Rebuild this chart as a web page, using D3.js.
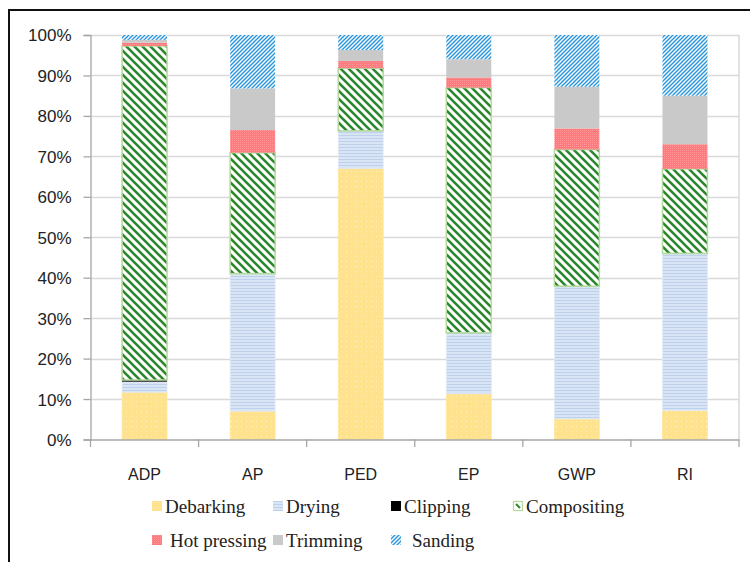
<!DOCTYPE html>
<html><head><meta charset="utf-8">
<script src="https://cdn.jsdelivr.net/npm/d3@7"></script>
<style>body{margin:0;background:#fff}svg{display:block}</style>
</head><body>
<svg id="c" width="750" height="562"></svg>
<script>
const categories = ["ADP","AP","PED","EP","GWP","RI"];
const seriesNames = ["Debarking","Drying","Clipping","Compositing","Hot pressing","Trimming","Sanding"];
const debarking   = [11.7, 7.0, 67.0, 11.3, 5.1, 7.2];
const drying      = [2.6, 34.0, 9.3, 15.1, 32.8, 38.8];
const clipping    = [0.4, 0, 0, 0, 0, 0];
const compositing = [82.6, 29.9, 15.5, 60.6, 33.8, 20.9];
const hotPressing = [0.8, 5.6, 1.8, 2.5, 5.2, 6.1];
const trimming    = [0.7, 10.3, 2.7, 4.5, 10.3, 12.0];
const sanding     = [1.2, 13.2, 3.7, 6.0, 12.8, 15.0];
const yTickValues = [0,10,20,30,40,50,60,70,80,90,100];

const seriesValues = [debarking, drying, clipping, compositing, hotPressing, trimming, sanding];
const rows = categories.map((c,i)=>{const o={cat:c}; seriesNames.forEach((s,j)=>o[s]=seriesValues[j][i]); return o;});

const svg = d3.select("#c");
const defs = svg.append("defs");
function pat(id,w,h,draw){const p=defs.append("pattern").attr("id",id).attr("patternUnits","userSpaceOnUse").attr("width",w).attr("height",h); draw(p); return `url(#${id})`;}
const fills = {
  "Debarking": pat("pDeb",5,5,p=>{p.append("rect").attr("width",5).attr("height",5).attr("fill","#FFE28E");p.append("rect").attr("x",1).attr("y",1).attr("width",1).attr("height",1).attr("fill","#FFF2C6");}),
  "Drying": pat("pDry",4,3,p=>{p.append("rect").attr("width",4).attr("height",3).attr("fill","#D9E4F4");p.append("rect").attr("y",0).attr("width",4).attr("height",1).attr("fill","#BDD0EC");}),
  "Clipping": "#000",
  "Compositing": pat("pCom",8,8,p=>{p.append("rect").attr("width",8).attr("height",8).attr("fill","#fff");
     p.append("path").attr("d","M-1,-1 L9,9 M-1,7 L1,9 M7,-1 L9,1").attr("stroke","#2C862C").attr("stroke-width",2.6);}),
  "Hot pressing": pat("pHot",2,2,p=>{p.append("rect").attr("width",2).attr("height",2).attr("fill","#FF7A7C");p.append("rect").attr("width",1).attr("height",1).attr("fill","#FF9496");}),
  "Trimming": "#C9C9C9",
  "Sanding": pat("pSan",4,4,p=>{p.append("rect").attr("width",4).attr("height",4).attr("fill","#fff");
     p.append("path").attr("d","M-1,1 L1,-1 M0,4 L4,0 M3,5 L5,3").attr("stroke","#2E98DE").attr("stroke-width",1.5);})
};
const strokes = {"Compositing":"#B2DA9C","Drying":"#E3EAF6","Debarking":"#FFE79E"};

svg.append("path").attr("d","M9,600 L9,10 L760,10").attr("fill","none").attr("stroke","#111").attr("stroke-width",2);

const x = d3.scaleBand().domain(categories).range([90.5,739]).paddingInner(0.584).paddingOuter(0.292);
const y = d3.scaleLinear().domain([0,100]).range([439.5,35]);

svg.append("g").selectAll("line").data(yTickValues.filter(v=>v>0)).join("line")
  .attr("x1",90.5).attr("x2",739).attr("y1",d=>Math.round(y(d))+0.5).attr("y2",d=>Math.round(y(d))+0.5)
  .attr("stroke","#D9D9D9").attr("stroke-width",1.5);
svg.append("line").attr("x1",739).attr("x2",739).attr("y1",35).attr("y2",439.5).attr("stroke","#D9D9D9").attr("stroke-width",1.5);

const stack = d3.stack().keys(seriesNames)(rows);
svg.append("g").selectAll("g").data(stack).join("g")
  .attr("fill",d=>fills[d.key])
  .attr("stroke",d=>strokes[d.key]||"none").attr("stroke-width",d=>d.key==="Compositing"?1.5:0.8)
  .selectAll("rect").data(d=>d.filter(e=>e[1]-e[0]>0)).join("rect")
  .attr("x",d=>x(d.data.cat)).attr("width",x.bandwidth())
  .attr("y",d=>y(d[1])).attr("height",d=>y(d[0])-y(d[1]));

const yAxis = svg.append("g").attr("transform","translate(90.5,0)")
  .call(d3.axisLeft(y).tickValues(yTickValues).tickFormat(d=>d+"%").tickSize(7).tickPadding(12));
yAxis.select(".domain").attr("stroke","#A6A6A6").attr("stroke-width",1.3);
yAxis.selectAll(".tick line").attr("stroke","#A6A6A6").attr("stroke-width",1.3);
yAxis.selectAll("text").attr("font-family","Liberation Sans, Arial, sans-serif").attr("font-size",17).attr("fill","#222").attr("dy","0.35em");

const xAxis = svg.append("g").attr("transform","translate(0,439.5)")
  .call(d3.axisBottom(x).tickSize(0).tickPadding(29));
xAxis.select(".domain").attr("stroke","#A6A6A6").attr("stroke-width",1.3);
xAxis.selectAll("text").attr("font-family","Liberation Sans, Arial, sans-serif").attr("font-size",16).attr("fill","#222");
const step = x.step();
svg.append("g").selectAll("line").data(d3.range(categories.length+1)).join("line")
  .attr("x1",d=>90.5+d*step).attr("x2",d=>90.5+d*step).attr("y1",439.5).attr("y2",447)
  .attr("stroke","#A6A6A6").attr("stroke-width",1.3);

const colX = [152, 273, 391, 513];
const legend = svg.append("g").attr("font-family","Liberation Serif, Times New Roman, serif").attr("font-size",19).attr("fill","#222");
seriesNames.forEach((s,i)=>{
  const r = i<4?0:1, c = i<4?i:i-4;
  const gx = colX[c], gy = r===0?501:535;
  const g = legend.append("g").attr("transform",`translate(${gx},${gy})`);
  if (s==="Compositing"){
    g.append("rect").attr("x",0.5).attr("y",0.5).attr("width",9).attr("height",9).attr("fill","#fff").attr("stroke","#B2DA9C").attr("stroke-width",1.2);
    g.append("path").attr("d","M3,3 L7,7").attr("stroke","#2C862C").attr("stroke-width",2);
  } else {
    g.append("rect").attr("width",10).attr("height",10).attr("fill",fills[s]);
  }
  const off = s==="Hot pressing"?18:(s==="Sanding"?21:13);
  g.append("text").attr("x",off).attr("y",12).text(s);
});
</script>
</body></html>
